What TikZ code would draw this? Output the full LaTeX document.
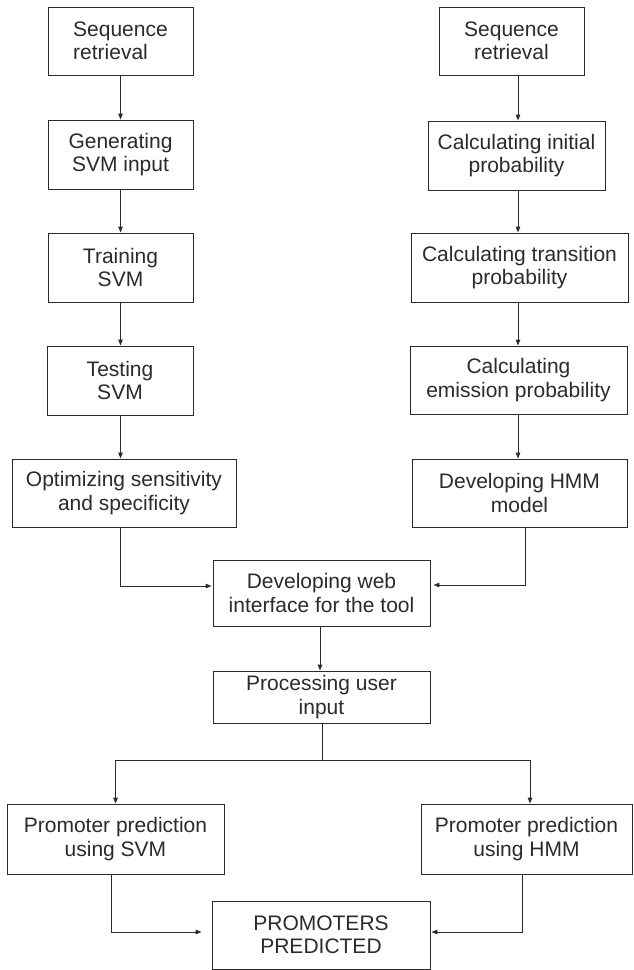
\documentclass[tikz,border=0pt]{standalone}
\usepackage{fontspec}
\setmainfont{Liberation Sans}
\usetikzlibrary{arrows.meta}
\definecolor{ink}{HTML}{2B2B2B}
\begin{document}
\begin{tikzpicture}[x=1pt,y=-1pt,
  box/.style={draw=ink, line width=0.9pt, text=ink, inner sep=0pt, align=center,
              font=\fontsize{21}{23.5}\selectfont},
  arr/.style={draw=ink, line width=0.9pt, -{Triangle[length=6pt,width=4.5pt]}},
  ln/.style={draw=ink, line width=0.9pt}]
\useasboundingbox[fill=white] (0,0) rectangle (634,970);
% column guide coordinates
\coordinate (lx) at (120.5,0);
\coordinate (rx) at (518,0);
\coordinate (hx) at (525,0);
\coordinate (cx) at (320,0);
\coordinate (split) at (322,760);
% left column
\node[box, align=left, minimum width=145pt, minimum height=68pt] (L1) at (120.5,41) {Sequence\\retrieval};
\node[box, minimum width=145pt, minimum height=69pt] (L2) at (120.5,154.5) {Generating\\SVM input};
\node[box, minimum width=145pt, minimum height=69pt] (L3) at (120.5,267.5) {Training\\SVM};
\node[box, minimum width=146pt, minimum height=69pt] (L4) at (120,380.5) {Testing\\SVM};
\node[box, minimum width=224pt, minimum height=68pt] (L5) at (124,493) {Optimizing sensitivity\\and specificity};
% right column
\node[box, minimum width=145pt, minimum height=68pt] (R1) at (511.5,41) {Sequence\\retrieval};
\node[box, minimum width=177pt, minimum height=69pt] (R2) at (516.5,155.5) {Calculating initial\\probability};
\node[box, minimum width=217pt, minimum height=69pt] (R3) at (519.5,267.5) {Calculating transition\\probability};
\node[box, minimum width=217pt, minimum height=68pt] (R4) at (518.5,380) {Calculating\\emission probability};
\node[box, minimum width=215pt, minimum height=68pt] (R5) at (519.5,493) {Developing HMM\\model};
% centre
\node[box, minimum width=217pt, minimum height=66pt] (C1) at (321.5,593) {Developing web\\interface for the tool};
\node[box, minimum width=217pt, minimum height=52pt] (C2) at (321.5,697) {Processing user\\input};
\node[box, minimum width=217pt, minimum height=70pt] (P1) at (115.5,839) {Promoter prediction\\using SVM};
\node[box, minimum width=211pt, minimum height=70pt] (P2) at (526.5,839) {Promoter prediction\\using HMM};
\node[box, minimum width=218pt, minimum height=68pt] (C3) at (321,935) {PROMOTERS\\PREDICTED};
% connectors
\draw[arr] (L1.south -| lx) -- (L2.north -| lx);
\draw[arr] (L2.south -| lx) -- (L3.north -| lx);
\draw[arr] (L3.south -| lx) -- (L4.north -| lx);
\draw[arr] (L4.south -| lx) -- (L5.north -| lx);
\draw[arr] (R1.south -| rx) -- (R2.north -| rx);
\draw[arr] (R2.south -| rx) -- (R3.north -| rx);
\draw[arr] (R3.south -| rx) -- (R4.north -| rx);
\draw[arr] (R4.south -| rx) -- (R5.north -| rx);
\draw[arr] (L5.south -| lx) |- ([xshift=-1pt,yshift=7pt]C1.west);
\draw[arr] (R5.south -| hx) |- ([xshift=3pt,yshift=8pt]C1.east);
\draw[arr] (C1.south -| cx) -- (C2.north -| cx);
\draw[ln] (C2.south -| split) -- (split);
\draw[arr] (split) -| (P1.north);
\draw[arr] (split) -| ([xshift=3.5pt]P2.north);
\draw[arr] ([xshift=-4.5pt]P1.south) |- ([xshift=-10pt,yshift=3pt]C3.west);
\draw[arr] ([xshift=-4.5pt]P2.south) |- ([xshift=1pt,yshift=3pt]C3.east);
\end{tikzpicture}
\end{document}
